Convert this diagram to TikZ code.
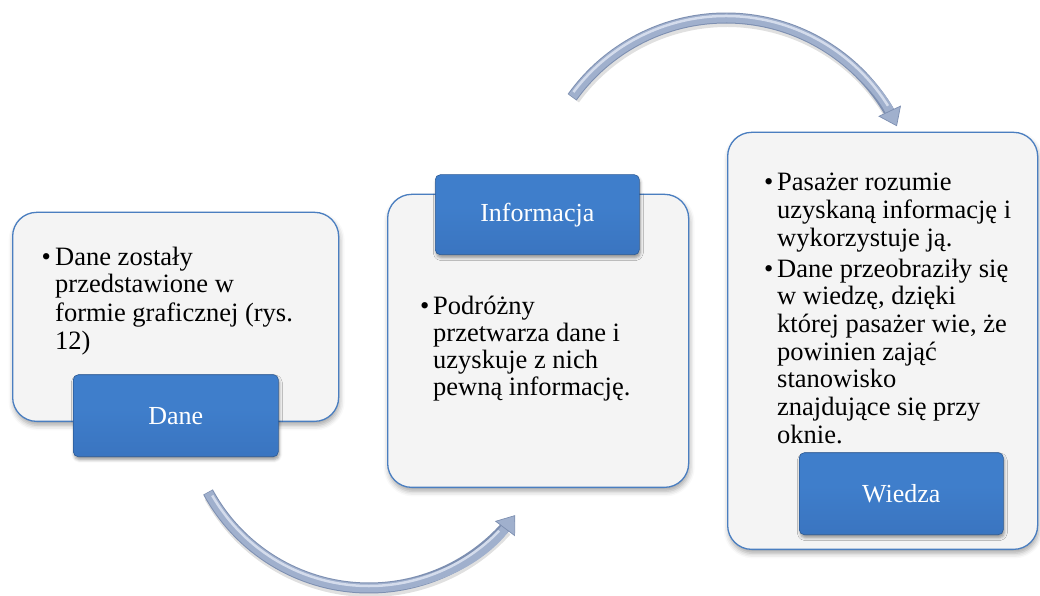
\documentclass[tikz,border=0pt]{standalone}
\usepackage{fontspec}
\setmainfont{Liberation Serif}
\usetikzlibrary{shadows.blur,arrows.meta}

\definecolor{panelfill}{HTML}{F4F4F4}
\definecolor{panelline}{HTML}{4A7EC0}
\definecolor{tagtop}{HTML}{6AA8EC}
\definecolor{tagmid}{HTML}{3F7ECB}
\definecolor{tagmidlow}{HTML}{3871BC}
\definecolor{tagbot}{HTML}{2A5A98}
\definecolor{tagline}{HTML}{2B5A96}
\definecolor{arrowbody}{HTML}{A0B0CD}
\definecolor{arrowlight}{HTML}{D4DCEC}
\definecolor{arrowdark}{HTML}{7D8FB1}

% flat blue face with a light rim on top and a darker rim below
\pgfdeclareverticalshading{tagshade}{100bp}{%
  color(0bp)=(tagbot); color(5bp)=(tagbot); color(14bp)=(tagmidlow);
  color(55bp)=(tagmid); color(84bp)=(tagmid); color(93bp)=(tagtop);
  color(100bp)=(tagtop)}

\tikzset{
  panel/.style={draw=panelline, line width=1.3pt, fill=panelfill,
    rounded corners=24pt, inner sep=0pt, anchor=south west,
    blur shadow={shadow xshift=1pt, shadow yshift=-4pt,
      shadow blur radius=5pt, shadow opacity=35}},
  tag/.style={draw=tagline, line width=0.6pt, rounded corners=5pt,
    shading=tagshade,
    text=white, inner sep=0pt, anchor=south west,
    font=\fontsize{26}{30}\selectfont,
    blur shadow={shadow xshift=1pt, shadow yshift=-3pt,
      shadow blur radius=3pt, shadow opacity=40}},
  bodytext/.style={inner sep=0pt, anchor=base west,
    font=\fontsize{26.5}{27.7}\selectfont},
  bulletmark/.style={inner sep=0pt, anchor=base west,
    font=\fontsize{26.5}{27.7}\selectfont},
  arcshadow/.style={line width=12pt, black, opacity=0.12},
  arcedge/.style={line width=11pt, arrowdark},
  arcbody/.style={line width=9pt, arrowbody,
    -{Triangle[width=25pt, length=17pt, fill=arrowbody, color=arrowdark, line width=0.7pt]}},
  arclight/.style={line width=2.5pt, arrowlight},
}

\begin{document}
\begin{tikzpicture}[x=1pt, y=1pt]
  \useasboundingbox (0,0) rectangle (1040,595);

  % panels
  \node[panel, minimum width=326pt, minimum height=209pt] (p1) at (12,173) {};
  \node[panel, minimum width=301pt, minimum height=293pt] (p2) at (387,107) {};
  \node[panel, minimum width=310pt, minimum height=417pt] (p3) at (727,45) {};

  % headings
  \node[tag, minimum width=205pt, minimum height=82pt] (dane) at (73,138) {Dane};
  \node[tag, minimum width=204pt, minimum height=80pt] (info) at (435,340) {Informacja};
  \node[tag, minimum width=204pt, minimum height=82pt] (wiedza) at (799,60) {Wiedza};

  % bullet texts
  \node[bulletmark] (m1) at (41.5,330) {\textbullet};
  \node[bodytext] (t1) at (55,330) {\parbox[t]{280pt}{\baselineskip=28pt Dane zostały\\przedstawione w\\formie graficznej (rys.\\12)}};

  \node[bulletmark] (m2) at (420,281) {\textbullet};
  \node[bodytext] (t2) at (433,281) {\parbox[t]{250pt}{\baselineskip=27pt Podróżny\\przetwarza dane i\\uzyskuje z nich\\pewną informację.}};

  \node[bulletmark] (m3) at (764,404) {\textbullet};
  \node[bodytext] (t3) at (777,404) {\parbox[t]{260pt}{Pasażer rozumie\\uzyskaną informację i\\wykorzystuje ją.}};

  \node[bulletmark] (m4) at (764,318) {\textbullet};
  \node[bodytext] (t4) at (777,318) {\parbox[t]{260pt}{Dane przeobraziły się\\w wiedzę, dzięki\\której pasażer wie, że\\powinien zająć\\stanowisko\\znajdujące się przy\\oknie.}};

  % curved arrow from Dane towards Informacja
  \coordinate (c1) at (369,190);
  \draw[arcshadow] ([shift={(1,-3)}]c1) ++(209:183) arc[start angle=209, end angle=318, radius=183];
  \draw[arcedge] (c1) ++(208.4:183) arc[start angle=208.4, end angle=318.5, radius=183];
  \draw[arcbody] (c1) ++(208.6:183) arc[start angle=208.6, end angle=323, radius=183];
  \draw[arclight] (c1) ++(210:181) arc[start angle=210, end angle=316, radius=181];

  % curved arrow from Informacja towards Wiedza
  \coordinate (c2) at (726,388);
  \draw[arcshadow] ([shift={(1,-3)}]c2) ++(144:189) arc[start angle=144, end angle=31, radius=189];
  \draw[arcedge] (c2) ++(144.5:189) arc[start angle=144.5, end angle=30, radius=189];
  \draw[arcbody] (c2) ++(144.3:189) arc[start angle=144.3, end angle=25.3, radius=189];
  \draw[arclight] (c2) ++(143:191) arc[start angle=143, end angle=32, radius=191];
\end{tikzpicture}
\end{document}
